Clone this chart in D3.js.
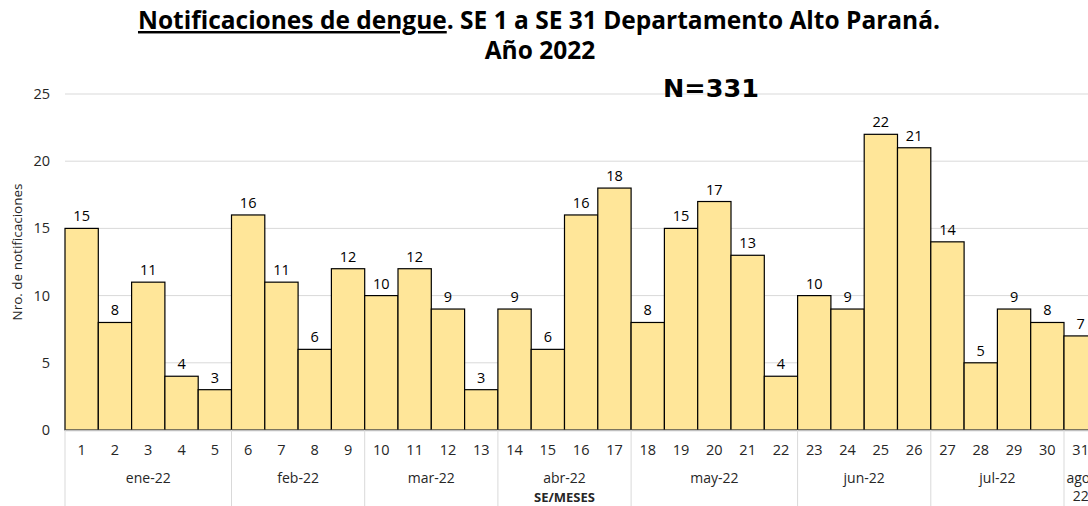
<!DOCTYPE html>
<html>
<head>
<meta charset="utf-8">
<script src="https://cdn.jsdelivr.net/npm/d3@7"></script>
<style>
  body { margin: 0; background: #fff; }
  svg { display: block; font-family: "Open Sans", "Noto Sans", sans-serif; }
</style>
</head>
<body>
<svg id="chart" width="1088" height="506"></svg>
<script>
const weeks = d3.range(1, 32);
const cases = [15, 8, 11, 4, 3, 16, 11, 6, 12, 10, 12, 9, 3, 9, 6, 16, 18, 8, 15, 17, 13, 4, 10, 9, 22, 21, 14, 5, 9, 8, 7];
const months = ["ene-22", "feb-22", "mar-22", "abr-22", "may-22", "jun-22", "jul-22", "ago-22"];
const monthStart = [1, 6, 10, 14, 18, 23, 27, 31];
const yTicks = [0, 5, 10, 15, 20, 25];

const svg = d3.select("#chart");
const plotLeft = 65, plotBottom = 430, plotTop = 94;
const barW = 33.3;

const x = d3.scaleBand().domain(weeks).range([plotLeft, plotLeft + barW * weeks.length]).padding(0);
const y = d3.scaleLinear().domain([0, 25]).range([plotBottom, plotTop]);

// gridlines
svg.append("g")
  .selectAll("line")
  .data(yTicks.slice(1))
  .enter()
  .append("line")
  .attr("x1", plotLeft).attr("x2", 1088)
  .attr("y1", d => y(d)).attr("y2", d => y(d))
  .attr("stroke", "#d9d9d9").attr("stroke-width", 1);

// y labels
svg.append("g")
  .selectAll("text")
  .data(yTicks)
  .enter()
  .append("text")
  .attr("x", 50).attr("y", d => y(d) + 5)
  .attr("text-anchor", "end")
  .attr("font-size", 14.5).attr("fill", "#262626")
  .text(d => d);

svg.append("text")
  .attr("transform", "translate(22,252) rotate(-90)")
  .attr("text-anchor", "middle")
  .attr("font-size", 13.5).attr("fill", "#262626")
  .text("Nro. de notificaciones");

// bars
svg.append("g")
  .selectAll("rect")
  .data(cases)
  .enter()
  .append("rect")
  .attr("x", (d, i) => x(weeks[i]))
  .attr("width", x.bandwidth())
  .attr("y", d => y(d))
  .attr("height", d => plotBottom - y(d))
  .attr("fill", "#FFE699")
  .attr("stroke", "#000").attr("stroke-width", 1.2);

// bar labels
svg.append("g")
  .selectAll("text")
  .data(cases)
  .enter()
  .append("text")
  .attr("x", (d, i) => x(weeks[i]) + x.bandwidth() / 2)
  .attr("y", d => y(d) - 7)
  .attr("text-anchor", "middle")
  .attr("font-size", 14.5).attr("fill", "#000")
  .text(d => d);

// x axis line
svg.append("line")
  .attr("x1", plotLeft).attr("x2", 1088)
  .attr("y1", plotBottom + 0.5).attr("y2", plotBottom + 0.5)
  .attr("stroke", "#bfbfbf").attr("stroke-width", 1.5);

// month separators
svg.append("g")
  .selectAll("line")
  .data(monthStart)
  .enter()
  .append("line")
  .attr("x1", d => x(d)).attr("x2", d => x(d))
  .attr("y1", plotBottom).attr("y2", 506)
  .attr("stroke", "#d9d9d9").attr("stroke-width", 1);

// week labels
svg.append("g")
  .selectAll("text")
  .data(weeks)
  .enter()
  .append("text")
  .attr("x", d => x(d) + x.bandwidth() / 2)
  .attr("y", 455)
  .attr("text-anchor", "middle")
  .attr("font-size", 14.5).attr("fill", "#262626")
  .text(d => d);

// month labels
const monthEnd = monthStart.slice(1).map(d => d - 1).concat([31]);
months.forEach((m, i) => {
  const cx = (x(monthStart[i]) + x(monthEnd[i]) + x.bandwidth()) / 2;
  const t = svg.append("text")
    .attr("x", cx).attr("y", 483)
    .attr("text-anchor", "middle")
    .attr("font-size", 14).attr("fill", "#262626");
  if (monthStart[i] === monthEnd[i]) {
    const parts = m.split("-");
    t.append("tspan").attr("x", cx).text(parts[0] + "-");
    t.append("tspan").attr("x", cx).attr("dy", 18).text(parts[1]);
  } else {
    t.text(m);
  }
});

svg.append("text")
  .attr("x", (x(14) + x(17) + x.bandwidth()) / 2).attr("y", 502)
  .attr("text-anchor", "middle")
  .attr("font-size", 13).attr("font-weight", "bold").attr("fill", "#262626")
  .text("SE/MESES");

// title
const title = svg.append("text")
  .attr("x", 539).attr("y", 29)
  .attr("text-anchor", "middle")
  .attr("font-size", 24.5).attr("font-weight", "bold").attr("fill", "#000");
title.append("tspan").attr("text-decoration", "underline").text("Notificaciones de dengue");
title.append("tspan").text(". SE 1 a SE 31 Departamento Alto Paraná.");
svg.append("text")
  .attr("x", 540).attr("y", 59)
  .attr("text-anchor", "middle")
  .attr("font-size", 24.5).attr("font-weight", "bold").attr("fill", "#000")
  .text("Año 2022");

svg.append("text")
  .attr("x", 663).attr("y", 97)
  .attr("font-family", "DejaVu Sans, Verdana, sans-serif")
  .attr("font-size", 25.5).attr("font-weight", "bold").attr("fill", "#000")
  .text("N=331");
</script>
</body>
</html>
